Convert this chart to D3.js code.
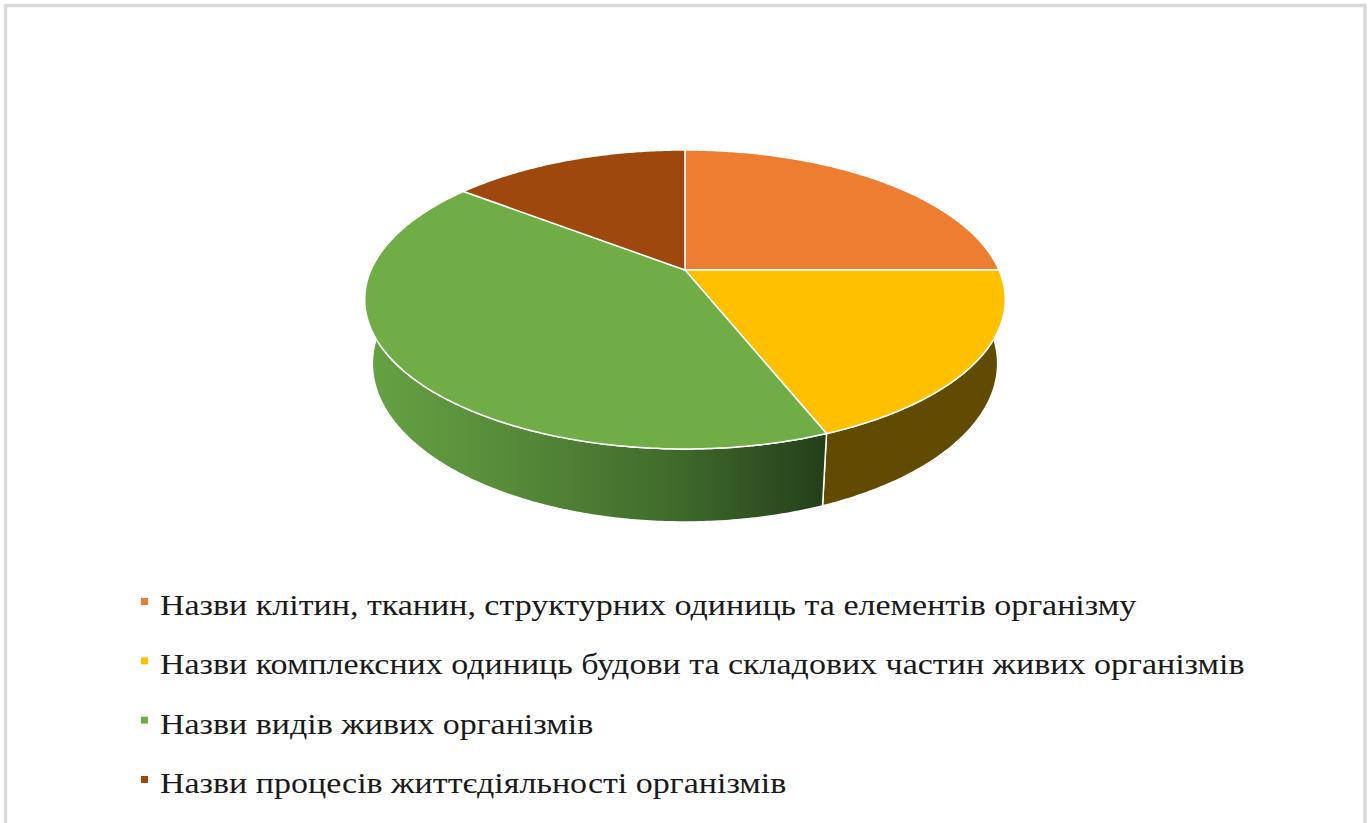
<!DOCTYPE html>
<html>
<head>
<meta charset="utf-8">
<script src="https://cdn.jsdelivr.net/npm/d3@7"></script>
<style>
	body { margin: 0; background: #fff; }
	svg { display: block; }
</style>
</head>
<body>
<div id="viz"></div>
<script>
// Data
var categories = [
	"Назви клітин, тканин, структурних одиниць та елементів організму",
	"Назви комплексних одиниць будови та складових частин живих організмів",
	"Назви видів живих організмів",
	"Назви процесів життєдіяльності організмів"
];
var values = [25, 19, 41.5, 14.5];
var topColors = ["#ED7D31", "#FFC000", "#70AD47", "#9E480E"];
var sideColors = ["#8a4412", "#614b00", "url(#greenSide)", "#5a2a08"];

var WIDTH = 1370;
var HEIGHT = 823;

// perspective of the 3D disc
var CX = 685;
var CY = 270;
var SIN_PHI = 0.4576;
var COS_PHI = 0.889;
var DIST = 4.51;
var FOCAL = 1416;
var THICK = 0.2313;

// the picture is stretched sideways, so is the legend text
var LEGEND_X = 160;
var LEGEND_RIGHT = 1245;

var project = function(theta, r, level) {
	var X = r * Math.sin(theta);
	var Z = -r * Math.cos(theta);
	var Y = level;
	var depth = DIST - Y * SIN_PHI - Z * COS_PHI;
	var up = Y * COS_PHI - Z * SIN_PHI;
	return [CX + FOCAL * X / depth, CY - FOCAL * up / depth];
};

var rimPoints = function(a0, a1, level) {
	var pts = [];
	var steps = Math.max(2, Math.ceil(Math.abs(a1 - a0) / 0.01));
	for (var i = 0; i <= steps; i++) {
		pts.push(project(a0 + (a1 - a0) * i / steps, 1, level));
	}
	return pts;
};

var svg = d3.select("#viz").append("svg")
	.attr("width", WIDTH)
	.attr("height", HEIGHT);

// gradient for the green side wall
var grad = svg.append("defs").append("linearGradient")
	.attr("id", "greenSide")
	.attr("gradientUnits", "userSpaceOnUse")
	.attr("x1", 365).attr("y1", 0)
	.attr("x2", 830).attr("y2", 0);
grad.append("stop").attr("offset", 0).attr("stop-color", "#66a244");
grad.append("stop").attr("offset", 0.3).attr("stop-color", "#578c39");
grad.append("stop").attr("offset", 0.65).attr("stop-color", "#416c2c");
grad.append("stop").attr("offset", 1).attr("stop-color", "#233e1a");

// chart border
svg.append("rect")
	.attr("x", 5.5)
	.attr("y", 5.5)
	.attr("width", 1359.5)
	.attr("height", 830)
	.attr("fill", "none")
	.attr("stroke", "#d9d9d9")
	.attr("stroke-width", 3.5);

var pie = d3.pie().sort(null).value(function(d) { return d; });
var arcs = pie(values);
var line = d3.line();

// side walls, only the front half (pi/2 .. 3pi/2)
var FRONT0 = Math.PI / 2;
var FRONT1 = Math.PI * 3 / 2;
var walls = svg.append("g");
arcs.forEach(function(a, i) {
	var a0 = Math.max(a.startAngle, FRONT0);
	var a1 = Math.min(a.endAngle, FRONT1);
	if (a1 <= a0) return;
	var pts = rimPoints(a0, a1, 0).concat(rimPoints(a1, a0, -THICK));
	walls.append("path")
		.attr("d", line(pts) + "Z")
		.attr("fill", sideColors[i])
		.attr("stroke", "#fff")
		.attr("stroke-width", 1.5)
		.attr("stroke-linejoin", "round");
});

// top faces
var tops = svg.append("g");
arcs.forEach(function(a, i) {
	var pts = [project(0, 0, 0)].concat(rimPoints(a.startAngle, a.endAngle, 0));
	tops.append("path")
		.attr("d", line(pts) + "Z")
		.attr("fill", topColors[i])
		.attr("stroke", "#fff")
		.attr("stroke-width", 1.5)
		.attr("stroke-linejoin", "round");
});

// legend
var legendY = d3.scalePoint()
	.domain(d3.range(categories.length))
	.range([615, 793]);

var legend = svg.append("g");
var texts = [];
categories.forEach(function(name, i) {
	var y = legendY(i);
	legend.append("rect")
		.attr("x", 141)
		.attr("y", y - 17)
		.attr("width", 7)
		.attr("height", 7)
		.attr("fill", topColors[i]);
	var t = legend.append("text")
		.attr("x", 0)
		.attr("y", 0)
		.style("font-family", "'Liberation Serif'")
		.attr("font-size", 30)
		.attr("fill", "#1a1a1a")
		.text(name);
	texts.push({ node: t, y: y });
});

// horizontal stretch, taken from the longest label
var longest = texts[1].node.node().getComputedTextLength();
var sx = (LEGEND_RIGHT - LEGEND_X) / longest;
texts.forEach(function(t) {
	t.node.attr("transform", "translate(" + LEGEND_X + "," + t.y + ") scale(" + sx + ",1)");
});
</script>
</body>
</html>
